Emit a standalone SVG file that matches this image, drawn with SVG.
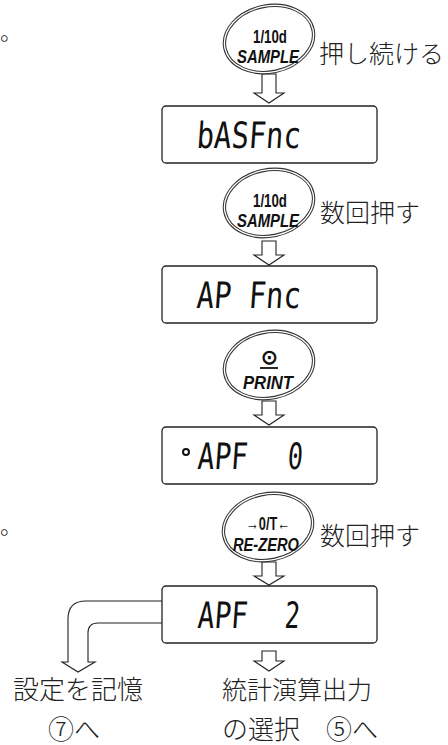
<svg xmlns="http://www.w3.org/2000/svg" width="448" height="745" viewBox="0 0 448 745">
<style>
.box{fill:#fff;stroke:#222;stroke-width:1.3}
.eo{fill:#fff;stroke:#333;stroke-width:3.4}
.ei{fill:none;stroke:#fff;stroke-width:1.3}
.arr{fill:#fff;stroke:#222;stroke-width:1.1;stroke-linejoin:miter}
.jp{font-family:"Noto Sans CJK JP","Noto Sans CJK SC",sans-serif;font-size:25px;font-weight:300;fill:#222}
.lcd{font-family:"DejaVu Sans Mono",monospace;font-size:25px;fill:#111}
.k1{font-family:"Liberation Sans",Arial,sans-serif;font-weight:bold;font-size:19px;fill:#111;text-anchor:middle}
.k2{font-family:"Liberation Sans",Arial,sans-serif;font-weight:bold;font-style:italic;font-size:19px;fill:#111;text-anchor:middle}
</style>
<rect width="448" height="745" fill="#fff"/>
<text class="jp" x="0" y="40" style="font-size:22px">。</text>
<text class="jp" x="0" y="534" style="font-size:22px">。</text>

<g id="connectors">
<path class="arr" d="M262,74 V93 H254 L269,103 L284,93 H276 V74 Z"/>
<path class="arr" d="M262,241 V255 H254 L269,265 L284,255 H276 V241 Z"/>
<path class="arr" d="M262,401 V415 H254 L269,425 L284,415 H276 V401 Z"/>
<path class="arr" d="M262,562 V576 H254 L269,585 L284,576 H276 V562 Z"/>
<path class="arr" d="M262,651 V661 H254 L269,671 L284,661 H276 V651 Z"/>
<path class="arr" d="M162,601 H86 Q68,601 68,619 V662 H62 L78,672 L95,662 H88 V633 Q88,623 98,623 H162"/>
</g>

<g id="key1">
<ellipse class="eo" cx="269" cy="39" rx="45" ry="33" transform="rotate(-12 269 39)"/>
<ellipse class="ei" cx="269" cy="39" rx="45" ry="33" transform="rotate(-12 269 39)"/>
<text class="k1" x="270" y="43" textLength="34" lengthAdjust="spacingAndGlyphs">1/10d</text>
<text class="k2" x="268" y="63" textLength="62" lengthAdjust="spacingAndGlyphs">SAMPLE</text>
</g>
<text class="jp" x="319" y="63">押し続ける</text>

<g id="lcd1">
<rect class="box" x="162" y="106" width="215" height="57" rx="4"/>
<text class="lcd" transform="translate(196,148) scale(1,1.45) skewX(-6)" textLength="104" lengthAdjust="spacingAndGlyphs">bASFnc</text>
</g>

<g id="key2">
<ellipse class="eo" cx="269" cy="203" rx="45" ry="33" transform="rotate(-12 269 203)"/>
<ellipse class="ei" cx="269" cy="203" rx="45" ry="33" transform="rotate(-12 269 203)"/>
<text class="k1" x="270" y="207" textLength="34" lengthAdjust="spacingAndGlyphs">1/10d</text>
<text class="k2" x="268" y="227" textLength="62" lengthAdjust="spacingAndGlyphs">SAMPLE</text>
</g>
<text class="jp" x="320" y="222">数回押す</text>

<g id="lcd2">
<rect class="box" x="162" y="266" width="215" height="57" rx="4"/>
<text class="lcd" transform="translate(196,308) scale(1,1.45) skewX(-6)" textLength="104" lengthAdjust="spacingAndGlyphs" xml:space="preserve">AP Fnc</text>
</g>

<g id="key3">
<ellipse class="eo" cx="269" cy="365" rx="45" ry="33" transform="rotate(-12 269 365)"/>
<ellipse class="ei" cx="269" cy="365" rx="45" ry="33" transform="rotate(-12 269 365)"/>
<text class="k1" x="269" y="364" style="font-size:20px">⊙</text>
<line x1="260" y1="368" x2="278" y2="368" stroke="#111" stroke-width="1.8"/>
<text class="k2" x="268" y="389" textLength="50" lengthAdjust="spacingAndGlyphs">PRINT</text>
</g>

<g id="lcd3">
<rect class="box" x="162" y="427" width="215" height="57" rx="4"/>
<circle cx="186" cy="452" r="3" fill="none" stroke="#111" stroke-width="2"/>
<text class="lcd" transform="translate(197,469) scale(1,1.45) skewX(-6)" textLength="50" lengthAdjust="spacingAndGlyphs">APF</text>
<text class="lcd" transform="translate(287,469) scale(1,1.45) skewX(-6)">0</text>
</g>

<g id="key4">
<ellipse class="eo" cx="268" cy="527" rx="45" ry="33" transform="rotate(-12 268 527)"/>
<ellipse class="ei" cx="268" cy="527" rx="45" ry="33" transform="rotate(-12 268 527)"/>
<text class="k1" x="268" y="530" textLength="44" lengthAdjust="spacingAndGlyphs">→0/T←</text>
<text class="k2" x="266" y="551" textLength="66" lengthAdjust="spacingAndGlyphs">RE-ZERO</text>
</g>
<text class="jp" x="320" y="545">数回押す</text>

<g id="lcd4">
<rect class="box" x="162" y="586" width="215" height="57" rx="4"/>
<text class="lcd" transform="translate(197,628) scale(1,1.45) skewX(-6)" textLength="50" lengthAdjust="spacingAndGlyphs">APF</text>
<text class="lcd" transform="translate(284,628) scale(1,1.45) skewX(-6)">2</text>
</g>

<text class="jp" x="13" y="699" style="font-size:26px">設定を記憶</text>
<text class="jp" x="48" y="739" style="font-size:26px">⑦へ</text>
<text class="jp" x="222" y="699">統計演算出力</text>
<text class="jp" x="222" y="739" style="font-size:26px" xml:space="preserve">の選択　⑤へ</text>
</svg>
